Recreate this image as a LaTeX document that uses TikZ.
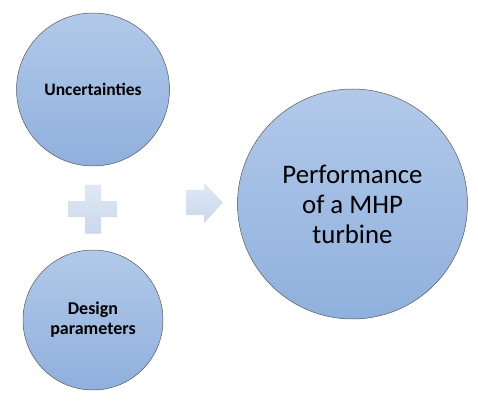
\documentclass[tikz,border=0pt]{standalone}
\usepackage{fontspec}
\setmainfont{Carlito}
\begin{document}
\begin{tikzpicture}[x=1pt,y=1pt,
  bubble/.style={circle, draw=black!65, line width=0.5pt, inner sep=0pt,
    top color=bubtop, bottom color=bubbot, align=center, text=black},
  faint/.style={top color=faintop, bottom color=faintbot, draw=none}]
\definecolor{bubtop}{RGB}{178,201,233}
\definecolor{bubbot}{RGB}{143,176,221}
\definecolor{faintop}{RGB}{224,232,244}
\definecolor{faintbot}{RGB}{202,216,236}
\useasboundingbox (0,0) rectangle (478,402);
\node[bubble, minimum size=153pt, font=\fontsize{17.5}{20}\selectfont\bfseries] (unc) at (93,312.5) {Uncertainties};
\node[bubble, minimum size=140pt, font=\fontsize{18}{20}\selectfont\bfseries] (des) at (93,82) {Design\\parameters};
\node[bubble, minimum size=230pt, font=\fontsize{26.8}{30}\selectfont] (perf) at (352.5,198) {Performance\\of a MHP\\turbine};
% plus sign
\shade[faint] (85,217.5) -- (101,217.5) -- (101,201) -- (117,201) -- (117,185) -- (101,185) -- (101,168.5) -- (85,168.5) -- (85,185) -- (68,185) -- (68,201) -- (85,201) -- cycle;
% arrow
\shade[faint] (186,212) -- (204,212) -- (204,219) -- (223,199.5) -- (204,179) -- (204,187) -- (186,187) -- cycle;
\end{tikzpicture}
\end{document}
